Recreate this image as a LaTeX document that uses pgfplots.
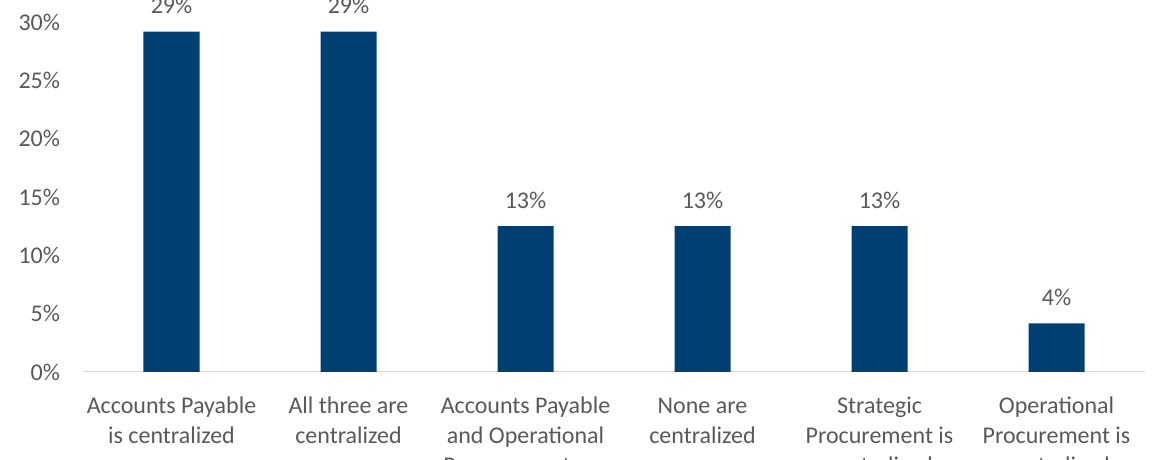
\documentclass[border=0pt]{standalone}
\usepackage{pgfplots}
\pgfplotsset{compat=1.18}
\usepackage{fontspec}
\setmainfont{Carlito}
\definecolor{barblue}{HTML}{003F72}
\definecolor{txtgray}{HTML}{595959}
\definecolor{axgray}{HTML}{D9D9D9}
\begin{document}
\fontsize{18pt}{22pt}\selectfont
\begin{tikzpicture}
% page = 1175 x 460 px at 0.75pt per px
\useasboundingbox (0,0) rectangle (881.25pt,345pt);
\begin{axis}[
    at={(62.25pt,66pt)}, anchor=south west,
    scale only axis,
    width=796.5pt, height=262.5pt,
    xmin=-0.5, xmax=5.5, ymin=0, ymax=30,
    clip=false,
    ybar, bar width=42pt,
    axis x line*=bottom, axis y line*=left,
    x axis line style={draw=axgray, line width=0.75pt, -},
    y axis line style={draw=none},
    major tick length=0pt,
    xtick={0,...,5},
    xticklabels={{\strut Accounts Payable\\is centralized},
                 {\strut All three are\\centralized},
                 {\strut Accounts Payable\\and Operational\\Procurement are\\centralized},
                 {\strut None are\\centralized},
                 {\strut Strategic\\Procurement is\\centralized},
                 {\strut Operational\\Procurement is\\centralized}},
    xticklabel style={align=center, text=txtgray,
                      font=\fontsize{18pt}{22.5pt}\selectfont, yshift=-9pt},
    ytick={0,5,...,30},
    yticklabel={\pgfmathprintnumber{\tick}\%},
    yticklabel style={text=txtgray, font=\fontsize{18pt}{22pt}\selectfont, xshift=-11pt},
    /pgf/number format/assume math mode=true,
    point meta=explicit symbolic,
    nodes near coords,
    nodes near coords style={text=txtgray, font=\fontsize{18pt}{22pt}\selectfont, yshift=7pt},
    ]
\addplot [draw=none, fill=barblue] coordinates {
    (0,29.17) [29\%]
    (1,29.17) [29\%]
    (2,12.5)  [13\%]
    (3,12.5)  [13\%]
    (4,12.5)  [13\%]
    (5,4.17)  [4\%]
};
\end{axis}
\end{tikzpicture}
\end{document}
